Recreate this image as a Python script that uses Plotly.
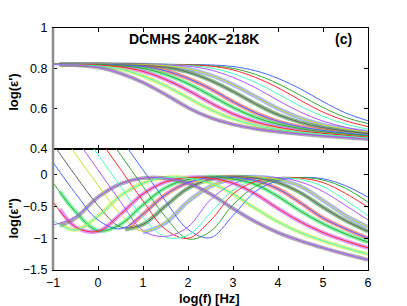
import plotly.graph_objects as go

# ---------------- data ----------------
X = [-1, -0.5, 0, 0.5, 1, 1.5, 2, 2.5, 3, 3.5, 4, 4.5, 5, 5.5, 6]
temps = ["240K", "238K", "236K", "234K", "232K", "230K", "228K",
         "226K", "224K", "222K", "220K", "218K"]

# log(eps') fitted / measured curves (top panel)
EPS1 = [
    [0.82, 0.82, 0.82, 0.82, 0.82, 0.82, 0.819, 0.817, 0.809, 0.788, 0.750, 0.698, 0.635, 0.579, 0.540],
    [0.82, 0.82, 0.82, 0.82, 0.82, 0.82, 0.818, 0.813, 0.800, 0.770, 0.724, 0.666, 0.606, 0.557, 0.526],
    [0.82, 0.82, 0.82, 0.82, 0.82, 0.819, 0.817, 0.811, 0.792, 0.755, 0.704, 0.641, 0.583, 0.540, 0.511],
    [0.82, 0.82, 0.82, 0.82, 0.819, 0.818, 0.814, 0.802, 0.774, 0.730, 0.673, 0.612, 0.562, 0.524, 0.498],
    [0.82, 0.82, 0.82, 0.82, 0.819, 0.817, 0.811, 0.792, 0.755, 0.704, 0.641, 0.583, 0.538, 0.508, 0.486],
    [0.82, 0.82, 0.82, 0.819, 0.818, 0.813, 0.798, 0.766, 0.719, 0.660, 0.600, 0.553, 0.520, 0.499, 0.484],
    [0.82, 0.82, 0.82, 0.818, 0.815, 0.805, 0.781, 0.740, 0.685, 0.624, 0.570, 0.532, 0.506, 0.489, 0.477],
    [0.82, 0.82, 0.819, 0.816, 0.809, 0.788, 0.750, 0.698, 0.635, 0.579, 0.537, 0.510, 0.492, 0.479, 0.469],
    [0.82, 0.82, 0.818, 0.813, 0.800, 0.770, 0.724, 0.666, 0.606, 0.557, 0.523, 0.501, 0.485, 0.474, 0.465],
    [0.82, 0.819, 0.816, 0.807, 0.785, 0.745, 0.691, 0.629, 0.574, 0.534, 0.508, 0.490, 0.478, 0.468, 0.459],
    [0.819, 0.817, 0.812, 0.796, 0.762, 0.714, 0.654, 0.595, 0.549, 0.518, 0.497, 0.483, 0.472, 0.463, 0.455],
    [0.818, 0.816, 0.805, 0.775, 0.730, 0.670, 0.605, 0.555, 0.522, 0.500, 0.485, 0.474, 0.465, 0.457, 0.449],
]

# log(eps'') fitted / measured curves (bottom panel)
EPS2 = [
    [2.08, 1.58, 1.08, 0.58, 0.08, -0.41, -0.86, -0.99, -0.64, -0.26, -0.09, -0.04, -0.06, -0.17, -0.35],
    [1.82, 1.32, 0.82, 0.32, -0.18, -0.66, -1.01, -0.89, -0.47, -0.18, -0.06, -0.04, -0.08, -0.21, -0.43],
    [1.59, 1.09, 0.59, 0.09, -0.41, -0.86, -1.00, -0.72, -0.30, -0.10, -0.04, -0.05, -0.12, -0.29, -0.51],
    [1.32, 0.82, 0.32, -0.18, -0.67, -0.98, -0.95, -0.60, -0.24, -0.08, -0.04, -0.07, -0.18, -0.40, -0.64],
    [1.08, 0.58, 0.08, -0.42, -0.88, -0.97, -0.82, -0.39, -0.14, -0.05, -0.04, -0.11, -0.26, -0.48, -0.71],
    [0.83, 0.33, -0.16, -0.62, -0.89, -0.74, -0.42, -0.18, -0.06, -0.03, -0.07, -0.18, -0.40, -0.64, -0.82],
    [0.49, -0.01, -0.48, -0.82, -0.78, -0.49, -0.21, -0.07, -0.03, -0.05, -0.12, -0.28, -0.51, -0.72, -0.89],
    [0.20, -0.29, -0.71, -0.85, -0.62, -0.31, -0.12, -0.04, -0.04, -0.09, -0.22, -0.44, -0.68, -0.85, -1.00],
    [-0.12, -0.58, -0.88, -0.78, -0.47, -0.20, -0.07, -0.03, -0.06, -0.15, -0.34, -0.57, -0.77, -0.93, -1.06],
    [-0.42, -0.82, -0.89, -0.62, -0.30, -0.11, -0.04, -0.05, -0.13, -0.30, -0.53, -0.74, -0.91, -1.04, -1.15],
    [-0.72, -0.87, -0.65, -0.33, -0.13, -0.04, -0.05, -0.13, -0.30, -0.53, -0.74, -0.91, -1.04, -1.15, -1.25],
    [-0.79, -0.66, -0.35, -0.14, -0.05, -0.05, -0.13, -0.30, -0.53, -0.74, -0.91, -1.04, -1.15, -1.25, -1.34],
]

# measured points (asterisks) for the seven lower temperatures (230K..218K)
STAR_TOP_X = [-0.85, -0.5, 0, 0.5, 1, 1.5, 2, 2.5, 3, 3.5, 4, 4.5, 5, 5.5, 6]
STAR_BOT_X = [
    [1, 1.5, 2, 2.5, 3, 3.5, 4, 4.5, 5, 5.5, 6],
    [0.6, 1, 1.5, 2, 2.5, 3, 3.5, 4, 4.5, 5, 5.5, 6],
    [0.7, 1, 1.5, 2, 2.5, 3, 3.5, 4, 4.5, 5, 5.5, 6],
    [-0.85, -0.5, 0, 0.5, 1, 1.5, 2, 2.5, 3, 3.5, 4, 4.5, 5, 5.5, 6],
    [-0.85, -0.5, 0, 0.5, 1, 1.5, 2, 2.5, 3, 3.5, 4, 4.5, 5, 5.5, 6],
    [-0.85, -0.5, 0, 0.5, 1, 1.5, 2, 2.5, 3, 3.5, 4, 4.5, 5, 5.5, 6],
    [-0.85, -0.5, 0, 0.5, 1, 1.5, 2, 2.5, 3, 3.5, 4, 4.5, 5, 5.5, 6],
]
STAR_BOT_Y = [
    [-0.91, -0.76, -0.42, -0.18, -0.06, -0.03, -0.07, -0.18, -0.40, -0.64, -0.82],
    [-0.86, -0.78, -0.49, -0.21, -0.07, -0.03, -0.05, -0.12, -0.28, -0.51, -0.72, -0.89],
    [-0.82, -0.62, -0.31, -0.12, -0.04, -0.04, -0.09, -0.22, -0.44, -0.68, -0.85, -1.00],
    [-0.26, -0.58, -0.88, -0.78, -0.47, -0.20, -0.07, -0.03, -0.06, -0.15, -0.34, -0.57, -0.77, -0.93, -1.06],
    [-0.54, -0.82, -0.89, -0.62, -0.30, -0.11, -0.04, -0.05, -0.13, -0.30, -0.53, -0.74, -0.91, -1.04, -1.15],
    [-0.76, -0.87, -0.65, -0.33, -0.13, -0.04, -0.05, -0.13, -0.30, -0.53, -0.74, -0.91, -1.04, -1.15, -1.25],
    [-0.80, -0.68, -0.35, -0.14, -0.05, -0.05, -0.13, -0.30, -0.53, -0.74, -0.91, -1.04, -1.15, -1.25, -1.34],
]

LINE_COLORS = ["#4466ff", "#33aa33", "#ff2a2a", "#44ffbb", "#aa55ff", "#ccdd22", "#666666",
               "#4466ff", "#33aa33", "#ff2a2a", "#44ffbb", "#aa55ff"]
STAR_COLORS = ["#6f86ff", "#3f8f3f", "#ff4a4a", "#33ee77", "#cc55ff", "#cdee44", "#7a7580"]

X_TICKS = [-1, 0, 1, 2, 3, 4, 5, 6]
X_TICKTEXT = ["\u22121", "0", "1", "2", "3", "4", "5", "6"]
Y1_TICKS = [0.4, 0.6, 0.8, 1]
Y1_TICKTEXT = ["0.4", "0.6", "0.8", "1"]
Y2_TICKS = [-1.5, -1, -0.5, 0]
Y2_TICKTEXT = ["\u22121.5", "\u22121", "\u22120.5", "0"]

# ---------------- figure ----------------
fig = go.Figure()

# measured data bands (dense asterisks)
for i in range(7):
    fig.add_trace(go.Scatter(
        x=STAR_TOP_X, y=EPS1[5 + i], mode="lines", xaxis="x", yaxis="y",
        line=dict(color=STAR_COLORS[i], width=4, shape="spline"),
        opacity=0.6, showlegend=False, hoverinfo="skip"))
    fig.add_trace(go.Scatter(
        x=STAR_BOT_X[i], y=STAR_BOT_Y[i], mode="lines", xaxis="x2", yaxis="y2",
        line=dict(color=STAR_COLORS[i], width=4, shape="spline"),
        opacity=0.6, showlegend=False, hoverinfo="skip"))

# fit lines for all temperatures
for i in range(12):
    fig.add_trace(go.Scatter(
        x=X, y=EPS1[i], mode="lines", xaxis="x", yaxis="y", name=temps[i],
        line=dict(color=LINE_COLORS[i], width=1, shape="spline"), showlegend=False))
    fig.add_trace(go.Scatter(
        x=X, y=EPS2[i], mode="lines", xaxis="x2", yaxis="y2", name=temps[i],
        line=dict(color=LINE_COLORS[i], width=1, shape="spline"), showlegend=False))

font = dict(family="Liberation Sans, Arial, sans-serif", size=12.5, color="black")
axcommon = dict(showgrid=False, zeroline=False, showline=True, linecolor="black",
                linewidth=1, mirror="ticks", ticks="inside", ticklen=4,
                tickcolor="black", tickfont=font)

fig.update_layout(
    width=407, height=306,
    margin=dict(l=53, r=39, t=28, b=36),
    paper_bgcolor="white", plot_bgcolor="white",
    font=font,
    xaxis=dict(domain=[0, 1], range=[-1, 6], anchor="y", tickvals=X_TICKS,
               showticklabels=False, **axcommon),
    yaxis=dict(domain=[0.5, 1], range=[0.4, 1], anchor="x", tickvals=Y1_TICKS,
               ticktext=Y1_TICKTEXT, ticklabelstandoff=2, **axcommon),
    xaxis2=dict(domain=[0, 1], range=[-1, 6], anchor="y2", tickvals=X_TICKS,
                ticktext=X_TICKTEXT, ticklabelstandoff=1, **axcommon),
    yaxis2=dict(domain=[0, 0.5], range=[-1.5, 0.41], anchor="x2", tickvals=Y2_TICKS,
                ticktext=Y2_TICKTEXT, ticklabelstandoff=2, **axcommon),
)

bold = dict(family="Liberation Sans, Arial, sans-serif", size=13, color="black")
anno = dict(xref="paper", yref="paper", showarrow=False, xanchor="center", yanchor="middle")
fig.add_annotation(text="<b>log(\u03b5')</b>", x=-0.125, y=0.735, textangle=-90, font=bold, **anno)
fig.add_annotation(text="<b>log(\u03b5'')</b>", x=-0.125, y=0.215, textangle=-90, font=bold, **anno)
fig.add_annotation(text="<b>log(f) [Hz]</b>", x=0.498, y=-0.118, font=bold, **anno)
fig.add_annotation(text="<b>DCMHS 240K\u2212218K</b>", x=0.448, y=0.954,
                   font=dict(family="Liberation Sans, Arial, sans-serif", size=14, color="black"),
                   **anno)
fig.add_annotation(text="<b>(c)</b>", x=0.921, y=0.954,
                   font=dict(family="Liberation Sans, Arial, sans-serif", size=14, color="black"),
                   **anno)

# grey left frame edge as in the reference
fig.add_shape(type="line", xref="paper", yref="paper", x0=0, x1=0, y0=0, y1=1,
              line=dict(color="#8c8c8c", width=2.5))

fig.write_html("out.html", config={"displayModeBar": False},
               post_script="document.body.style.margin='0';document.body.style.padding='0';")
